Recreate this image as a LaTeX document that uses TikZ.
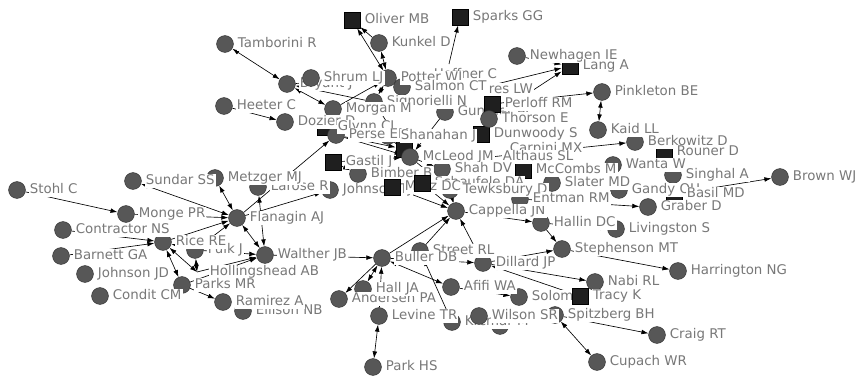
\documentclass[tikz,border=0pt]{standalone}
\usepackage{fontspec}
\setmainfont{DejaVu Sans}
\usetikzlibrary{arrows.meta,backgrounds}

\tikzset{
  actor/.style={circle,draw=black!80,fill=black!66,minimum size=14.4pt,inner sep=0pt,line width=0.4pt},
  org/.style={rectangle,draw=black,fill=black!88,minimum size=14pt,inner sep=0pt},
  lbl/.style={anchor=west,xshift=9.8pt,fill=white,inner sep=1pt,text=black!53,
    font=\fontsize{11.4}{12}\selectfont,text height=8.4pt,text depth=2.3pt},
  tie/.style={line width=0.55pt,-{Latex[length=6pt,width=4pt]}},
  mutual/.style={line width=0.55pt,{Latex[length=6pt,width=4pt]}-{Latex[length=6pt,width=4pt]}},
}

\begin{document}
\begin{tikzpicture}[x=0.03cm,y=-0.03cm]
\useasboundingbox (0,0) rectangle (858,378);

% top
\node[org] (oliver) at (352,20) {};
\node[org] (sparks) at (460,17) {};
\node[actor] (kunkel) at (379,43) {};
\node[actor] (tamborini) at (225,44) {};
\node[actor] (bryant) at (287,84) {};
\coordinate (hoffner) at (421,75);
\coordinate (sparks-in) at (449,64);
\node[actor] (potter) at (388,78) {};
\node[actor] (salmon) at (402,87) {};
\coordinate (eres) at (472,90);
\node[actor] (signorielli) at (374,102) {};
\node[actor] (morgan) at (333,109) {};
\node[actor] (heeter) at (224,106) {};
\node[actor] (gunther) at (445,112) {};
\node[actor] (dozier) at (285,122) {};
\node[org] (glynn) at (325,127) {};
\node[actor] (perse) at (336,135) {};
\node[actor] (shanahan) at (388,136) {};
\node[org] (blk) at (404,149) {};
\node[actor] (mcleod) at (410,157) {};
\node[org] (gastil) at (333,162) {};
\node[actor] (bimber) at (358,174) {};
\node[actor] (larose) at (258,187) {};
\node[actor] (johnson) at (330,190) {};
\node[actor] (shah) at (442,169) {};
\node[actor] (tewksbury) at (450,190) {};
\node[actor] (cappella) at (456,211) {};
\node[org] (dunwoody) at (481,134) {};
\coordinate (carpini) at (497,149);
\coordinate (althaus) at (490,157);
\node[org] (mccombs) at (523,170) {};
\node[actor] (newhagen) at (517,56) {};
\node[org] (lang) at (570,66) {};
\node[actor] (pinkleton) at (602,92) {};
\node[actor] (kaid) at (598,130) {};
% right
\node[actor] (berkowitz) at (635,142) {};
\node[org] (rouner) at (664,152) {};
\node[actor] (wanta) at (613,165) {};
\node[actor] (singhal) at (673,175) {};
\node[actor] (gandy) at (619,190) {};
\node[org] (basil) at (674,194) {};
\node[actor] (slater) at (552,183) {};
\node[actor] (entman) at (520,199) {};
\node[actor] (hallin) at (541,223) {};
\node[actor] (graber) at (648,207) {};
\node[actor] (livingston) at (616,229) {};
\node[actor] (stephenson) at (562,249) {};
\node[actor] (harrington) at (678,271) {};
\node[actor] (nabi) at (595,282) {};
\node[actor] (spitzberg) at (555,315) {};
\node[actor] (craig) at (657,335) {};
\node[actor] (cupach) at (597,362) {};
\node[actor] (brown) at (780,177) {};
% bottom
\node[actor] (street) at (420,251) {};
\node[actor] (buller) at (382,258) {};
\node[actor] (dillard) at (483,263) {};
\node[actor] (afifi) at (451,287) {};
\node[actor] (hall) at (363,289) {};
\node[actor] (andersen) at (339,299) {};
\node[actor] (levine) at (379,316) {};
\node[actor] (park) at (373,367) {};
\node[actor] (solomon) at (519,297) {};
\node[actor] (krcmar) at (452,322) {};
\node[actor] (kr2) at (500,326) {};
% left
\node[actor] (walther) at (265,255) {};
\node[actor] (flanagin) at (237,218) {};
\node[actor] (metzger) at (215,178) {};
\node[actor] (sundar) at (133,181) {};
\node[actor] (stohl) at (17,190) {};
\node[actor] (monge) at (126,214) {};
\node[actor] (contractor) at (63,230) {};
\node[actor] (rice) at (163,242) {};
\node[actor] (barnett) at (61,256) {};
\node[actor] (johnsonjd) at (85,274) {};
\node[actor] (condit) at (100,296) {};
\node[actor] (fulk) at (195,250) {};
\coordinate (hollingshead) at (197,272);
\node[actor] (parks) at (182,285) {};
\node[actor] (ramirez) at (223,302) {};
\node[actor] (ellison) at (243,311) {};

% names
\node[lbl] (scheufele-l) at (422,183) {Scheufele DA};
\foreach \n/\t in {oliver/Oliver MB, sparks/Sparks GG, kunkel/Kunkel D,
    tamborini/Tamborini R, bryant/Bryant J, hoffner/Hoffner C,
    potter/Potter WJ, eres/Ires LW, salmon/Salmon CT, signorielli/Signorielli N,
    morgan/Morgan M, heeter/Heeter C, dozier/Dozier D, glynn/Glynn CJ,
    perse/Perse EM, shanahan/Shanahan J, gunther/Gunther AC,
    dunwoody/Dunwoody S, carpini/Carpini MX, althaus/Althaus SL,
    mcleod/McLeod JM, gastil/Gastil J, bimber/Bimber B, larose/Larose R,
    johnson/Johnson TJ, shah/Shah DV,
    mccombs/McCombs M, tewksbury/Tewksbury D, cappella/Cappella JN,
    newhagen/Newhagen JE, lang/Lang A, pinkleton/Pinkleton BE, kaid/Kaid LL,
    berkowitz/Berkowitz D, rouner/Rouner D, wanta/Wanta W, singhal/Singhal A,
    slater/Slater MD, gandy/Gandy OH, basil/Basil MD, entman/Entman RM,
    hallin/Hallin DC, graber/Graber D, livingston/Livingston S,
    stephenson/Stephenson MT, harrington/Harrington NG, nabi/Nabi RL,
    solomon/Solomon DH, spitzberg/Spitzberg BH, craig/Craig RT,
    cupach/Cupach WR, brown/Brown WJ, street/Street RL, buller/Buller DB,
    dillard/Dillard JP, afifi/Afifi WA, andersen/Andersen PA, hall/Hall JA,
    levine/Levine TR, krcmar/Krcmar M, park/Park HS,
    walther/Walther JB, flanagin/Flanagin AJ, metzger/Metzger MJ,
    sundar/Sundar SS, stohl/Stohl C, monge/Monge PR, contractor/Contractor NS,
    barnett/Barnett GA, johnsonjd/Johnson JD, condit/Condit CM,
    hollingshead/Hollingshead AB, fulk/Fulk J, rice/Rice RE, parks/Parks MR,
    ellison/Ellison NB, ramirez/Ramirez A}
  \node[lbl] (\n-l) at (\n) {\t};

% drawn over the names
\node[actor] (shrum) at (311,78) {};
\node[lbl] (shrum-l) at (shrum) {Shrum LJ};
\node[org] (perloff) at (492,104) {};
\node[actor] (thorson) at (489,119) {};
\node[lbl] (perloff-l) at (perloff) {Perloff RM};
\node[lbl] (thorson-l) at (thorson) {Thorson E};
\node[org] (mutz) at (392,187) {};
\node[lbl] (mutz-l) at (mutz) {Mutz DC};
\node[org] (scheufele) at (422,183) {};
\node[org] (tracy) at (580,296) {};
\node[lbl] (tracy-l) at (tracy) {Tracy K};
\node[actor] (wilson) at (479,316) {};
\node[lbl] (wilson-l) at (wilson) {Wilson SR};

\begin{scope}[on background layer]
% top cluster
\draw[mutual] (oliver) -- (potter);
\draw[tie] (kunkel) -- (oliver);
\draw[mutual] (kunkel) -- (potter);
\draw[tie] (sparks-in) -- (sparks);
\draw[mutual] (tamborini) -- (bryant);
\draw[mutual] (morgan) -- (bryant);
\draw[tie] (signorielli) -- (bryant);
\draw[tie] (bryant) -- (potter);
\draw[tie] (morgan) -- (potter);
\draw[tie] (shrum) -- (potter);
\draw[mutual] (signorielli) -- (potter);
\draw[tie] (heeter) -- (dozier);
\draw[tie] (glynn) -- (perse);
\draw[tie] (flanagin) -- (perse);
\draw[tie] (perse) -- (mcleod);
\draw[tie] (perse) -- (blk);
\draw[tie] (signorielli) -- (blk);
\draw[tie] (gunther) -- (mcleod);
\draw[tie] (shanahan) -- (mcleod);
\draw[tie] (gastil) -- (bimber);
\draw[tie] (gastil) -- (mcleod);
\draw[tie] (flanagin) -- (johnson);
\draw[tie] (mcleod) -- (shah);
\draw[tie] (mcleod) -- (tewksbury);
\draw[tie] (mutz) -- (cappella);
\draw[tie] (scheufele) -- (cappella);
\draw[tie] (shah) -- (cappella);
\draw[mutual] (tewksbury) -- (cappella);
\draw[tie] (thorson) -- (lang);
\draw[tie] (eres) -- (lang);
\draw[tie] (newhagen) -- (lang);
\draw[tie] (perloff) -- (pinkleton);
\draw[mutual] (kaid) -- (pinkleton);
\draw[tie] (althaus) -- (berkowitz);
% right
\draw[tie] (basil) -- (brown);
\draw[tie] (entman) -- (graber);
\draw[tie] (cappella) -- (hallin);
\draw[tie] (hallin) -- (livingston);
\draw[tie] (hallin) -- (stephenson);
\draw[tie] (dillard) -- (stephenson);
\draw[tie] (stephenson) -- (harrington);
\draw[tie] (dillard) -- (nabi);
\draw[tie] (tracy) -- (dillard);
\draw[tie] (spitzberg) -- (craig);
\draw[mutual] (spitzberg) -- (cupach);
\draw[dashed,line width=0.5pt] (wilson) -- (spitzberg);
% bottom
\draw[tie] (buller) -- (cappella);
\draw[tie] (street) -- (cappella);
\draw[tie] (dillard) -- (cappella);
\draw[tie] (buller) -- (dillard);
\draw[mutual] (buller) -- (afifi);
\draw[tie] (walther) -- (buller);
\draw[mutual] (hall) -- (buller);
\draw[tie] (buller) -- (andersen);
\draw[tie] (levine) -- (buller);
\draw[tie] (krcmar) -- (street);
\draw[tie] (afifi) -- (solomon);
\draw[mutual] (levine) -- (park);
% left
\draw[tie] (stohl) -- (monge);
\draw[tie] (contractor) -- (rice);
\draw[tie] (barnett) -- (rice);
\draw[mutual] (rice) -- (parks);
\draw[mutual] (rice) -- (hollingshead);
\draw[mutual] (rice) -- (fulk);
\draw[mutual] (fulk) -- (hollingshead);
\draw[tie] (monge) -- (flanagin);
\draw[mutual] (flanagin) -- (sundar);
\draw[mutual] (metzger) -- (flanagin);
\draw[tie] (rice) -- (flanagin);
\draw[tie] (fulk) -- (flanagin);
\draw[mutual] (larose) -- (walther);
\draw[mutual] (flanagin) -- (walther);
\draw[tie] (fulk) -- (walther);
\draw[tie] (hollingshead) -- (walther);
\draw[tie] (parks) -- (walther);
\draw[tie] (parks) -- (ramirez);
\end{scope}
\end{tikzpicture}
\end{document}
